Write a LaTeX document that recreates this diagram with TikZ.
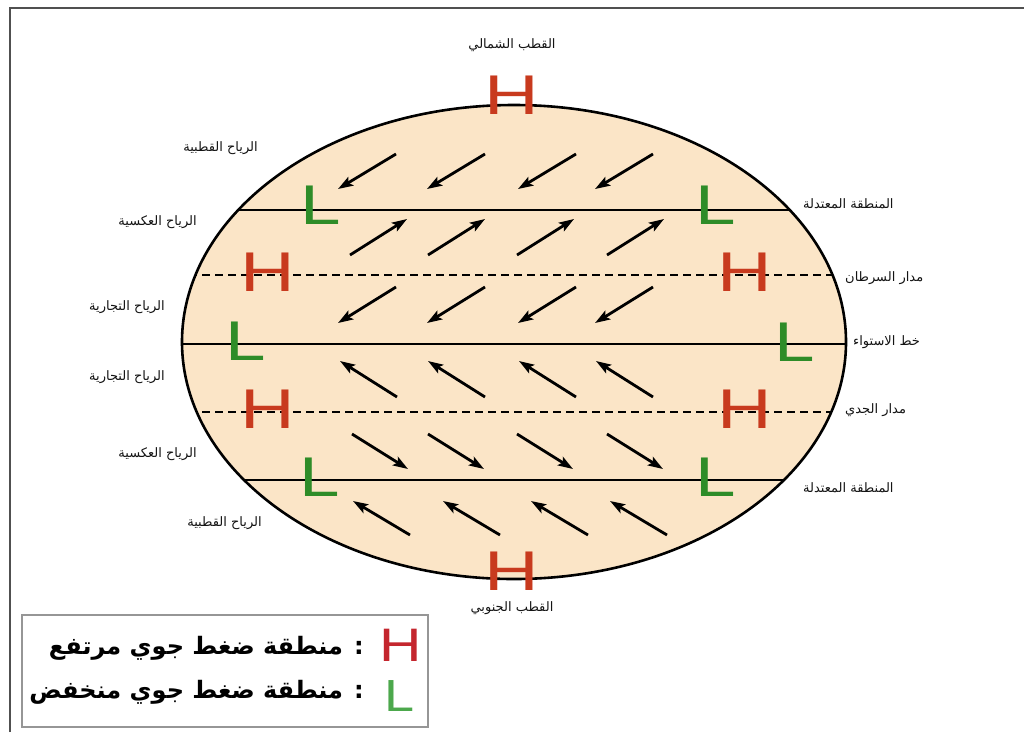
\documentclass[tikz,border=0pt]{standalone}
\usepackage{fontspec}
\usetikzlibrary{arrows.meta}
\TeXXeTstate=1
\newfontfamily\arabicfont[Script=Arabic]{DejaVu Sans}
\newfontfamily\symfont{Liberation Sans}
\definecolor{peach}{RGB}{251,229,199}
\definecolor{hred}{RGB}{200,58,30}
\definecolor{lgreen}{RGB}{46,140,40}
\definecolor{legred}{RGB}{196,38,46}
\definecolor{leggreen}{RGB}{76,168,76}
\definecolor{framegray}{RGB}{80,80,80}
\definecolor{boxgray}{RGB}{150,150,150}
\definecolor{txt}{RGB}{20,20,20}
\begin{document}
\begin{tikzpicture}[x=1pt,y=-1pt,
  lab/.style={font=\arabicfont\fontsize{13}{15}\selectfont, text=txt, inner sep=0pt},
  legtext/.style={font=\arabicfont\bfseries\fontsize{24}{26}\selectfont, text=black, inner sep=0pt, anchor=east},
  hsym/.style={text=hred, font=\symfont\fontsize{56}{56}\selectfont, xscale=1.35, inner sep=0pt},
  lsym/.style={text=lgreen, font=\symfont\fontsize{56}{56}\selectfont, xscale=1.3, inner sep=0pt},
  wind/.style={line width=2.8pt, -{Stealth[length=15pt,width=10pt,inset=3pt]}},
  latline/.style={line width=2pt},
  tropic/.style={line width=2pt, dash pattern=on 8pt off 5pt},
]
\useasboundingbox (0,0) rectangle (1024,732);
\fill[white] (0,0) rectangle (1024,732);
% frame
\draw[framegray, line width=2.6pt] (10,732) -- (10,8) -- (1024,8);

% globe
\fill[peach] (514,342) ellipse [x radius=332, y radius=237];
\begin{scope}
  \clip (514,342) ellipse [x radius=332, y radius=237];
  \draw[latline] (150,210) -- (900,210);
  \draw[tropic]  (150,275) -- (900,275);
  \draw[latline] (150,344) -- (900,344);
  \draw[tropic]  (150,412) -- (900,412);
  \draw[latline] (150,480) -- (900,480);
\end{scope}
\draw[line width=2.6pt] (514,342) ellipse [x radius=332, y radius=237];

% winds
\foreach \i/\sx/\sy/\dx/\dy in {
  1/396/154/-58/35, 2/485/154/-58/35, 3/576/154/-58/35, 4/653/154/-58/35,
  5/350/255/57/-36, 6/428/255/57/-36, 7/517/255/57/-36, 8/607/255/57/-36,
  9/396/287/-58/36, 10/485/287/-58/36, 11/576/287/-58/36, 12/653/287/-58/36,
  13/397/397/-57/-36, 14/485/397/-57/-36, 15/576/397/-57/-36, 16/653/397/-57/-36,
  17/352/434/56/35, 18/428/434/56/35, 19/517/434/56/35, 20/607/434/56/35,
  21/410/535/-57/-34, 22/500/535/-57/-34, 23/588/535/-57/-34, 24/667/535/-57/-34}{
  \coordinate (w\i s) at (\sx,\sy);
  \coordinate (w\i e) at (\sx+\dx,\sy+\dy);
  \draw[wind] (w\i s) -- (w\i e);
}

% pressure symbols
\node[hsym] (hN) at (512,95) {H};
\node[hsym] (hNL) at (268,272) {H};
\node[hsym] (hNR) at (745,272) {H};
\node[hsym] (hSL) at (268,409) {H};
\node[hsym] (hSR) at (745,409) {H};
\node[hsym] (hS) at (512,571) {H};
\node[lsym] (lNL) at (321,205) {L};
\node[lsym] (lNR) at (716,205) {L};
\node[lsym] (lEL) at (246,341) {L};
\node[lsym] (lER) at (795,342) {L};
\node[lsym] (lSL) at (320,477) {L};
\node[lsym] (lSR) at (716,477) {L};

% labels
\node[lab] (tN) at (512,45) {\beginR القطب الشمالي\endR};
\node[lab] (tS) at (512,608) {\beginR القطب الجنوبي\endR};
\node[lab, anchor=east] (w1) at (258,148) {\beginR الرياح القطبية\endR};
\node[lab, anchor=east] (w2) at (197,222) {\beginR الرياح العكسية\endR};
\node[lab, anchor=east] (w3) at (165,307) {\beginR الرياح التجارية\endR};
\node[lab, anchor=east] (w4) at (165,377) {\beginR الرياح التجارية\endR};
\node[lab, anchor=east] (w5) at (197,454) {\beginR الرياح العكسية\endR};
\node[lab, anchor=east] (w6) at (262,523) {\beginR الرياح القطبية\endR};
\node[lab, anchor=west] (r1) at (803,204) {\beginR المنطقة المعتدلة\endR};
\node[lab, anchor=west] (r2) at (845,278) {\beginR مدار السرطان\endR};
\node[lab, anchor=west] (r3) at (853,342) {\beginR خط الاستواء\endR};
\node[lab, anchor=west] (r4) at (845,410) {\beginR مدار الجدي\endR};
\node[lab, anchor=west] (r5) at (803,488) {\beginR المنطقة المعتدلة\endR};

% legend
\draw[boxgray, line width=1.5pt] (22,615) rectangle (428,727);
\node[text=legred, font=\symfont\fontsize{47}{47}\selectfont, xscale=1.25, inner sep=0pt] (legH) at (401,645) {H};
\node[text=leggreen, font=\symfont\fontsize{45}{45}\selectfont, xscale=1.2, inner sep=0pt] (legL) at (400,696) {L};
\node[legtext] (legHt) at (364,648) {\beginR : منطقة ضغط جوي مرتفع\endR};
\node[legtext] (legLt) at (364,692) {\beginR : منطقة ضغط جوي منخفض\endR};
\end{tikzpicture}
\end{document}
